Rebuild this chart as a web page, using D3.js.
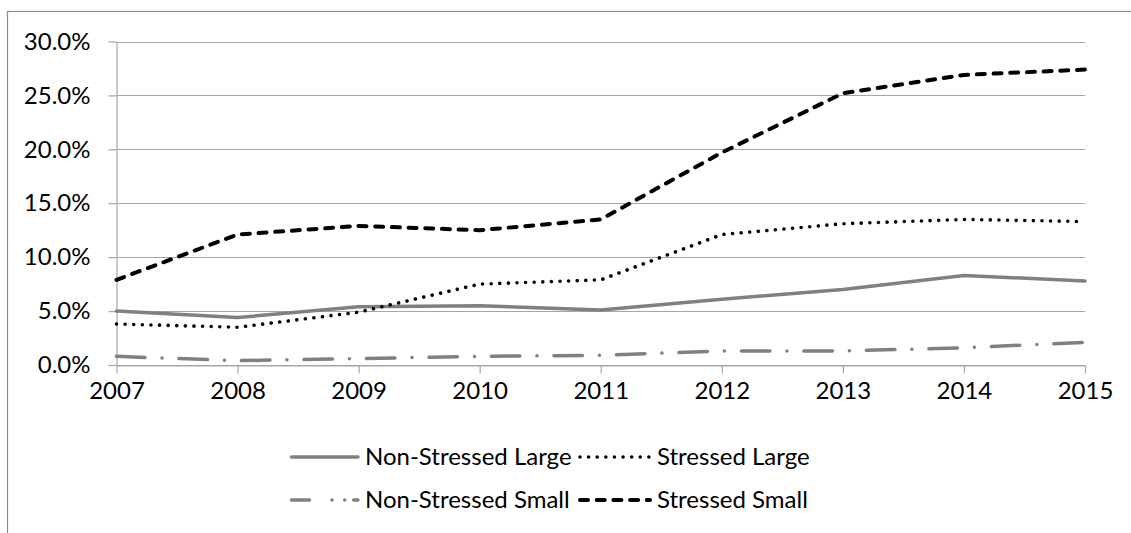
<!DOCTYPE html>
<html>
<head>
<meta charset="utf-8">
<script src="https://cdn.jsdelivr.net/npm/d3@7"></script>
<style>
  html, body { margin: 0; padding: 0; background: #fff; }
  svg { display: block; }
  text { font-family: "Lato", "Open Sans", sans-serif; fill: #000; }
</style>
</head>
<body>
<svg id="chart" width="1131" height="533"></svg>
<script>
// Share of firms by group, 2007–2015 (percent)
const years = [2007, 2008, 2009, 2010, 2011, 2012, 2013, 2014, 2015];
const nonStressedLarge = [5.0, 4.4, 5.4, 5.5, 5.1, 6.1, 7.0, 8.3, 7.8];
const stressedLarge    = [3.8, 3.5, 4.9, 7.5, 7.9, 12.1, 13.1, 13.5, 13.3];
const nonStressedSmall = [0.8, 0.4, 0.6, 0.8, 0.9, 1.3, 1.3, 1.6, 2.1];
const stressedSmall    = [7.9, 12.1, 12.9, 12.5, 13.5, 19.7, 25.2, 26.9, 27.4];
const yTicks = [0, 5, 10, 15, 20, 25, 30];
const seriesNames = ["Non-Stressed Large", "Stressed Large", "Non-Stressed Small", "Stressed Small"];

const gridColor = "#a6a6a6";
const frameColor = "#8c8c8c";
const fontSize = 24;

const series = [
  { name: seriesNames[0], values: nonStressedLarge, color: "#808080", width: 3.5, dash: null, legendDash: null },
  { name: seriesNames[1], values: stressedLarge, color: "#000000", width: 3.6, dash: "0.01 8.6", legendDash: "0.01 8.6" },
  { name: seriesNames[2], values: nonStressedSmall, color: "#808080", width: 3.5, dash: "28.5 17 0.01 17", legendDash: "18 22.5 0.01 12.7 0.01 9 4.2 100" },
  { name: seriesNames[3], values: stressedSmall, color: "#000000", width: 4, dash: "8 8.7", legendDash: "8 8.7" }
];

const svg = d3.select("#chart");

// chart frame
svg.append("rect")
  .attr("x", 7.5).attr("y", 11.5)
  .attr("width", 1300).attr("height", 700)
  .attr("fill", "none").attr("stroke", frameColor).attr("stroke-width", 1.2);

const x = d3.scaleLinear().domain([2007, 2015]).range([116.5, 1085]);
const y = d3.scaleLinear().domain([0, 30]).range([365, 41.5]);

// horizontal gridlines
svg.append("g")
  .selectAll("line")
  .data(yTicks)
  .join("line")
  .attr("x1", x(2007)).attr("x2", x(2015))
  .attr("y1", d => Math.round(y(d)) + 0.5).attr("y2", d => Math.round(y(d)) + 0.5)
  .attr("stroke", gridColor).attr("stroke-width", 1.2);

// y axis
const yAxis = svg.append("g")
  .attr("transform", `translate(${x(2007)},0)`)
  .call(d3.axisLeft(y).tickValues(yTicks)
    .tickFormat(d => d.toFixed(1) + "%")
    .tickSize(8).tickSizeOuter(0).tickPadding(18));
yAxis.selectAll("path.domain").attr("stroke", gridColor).attr("stroke-width", 1.2);
yAxis.selectAll(".tick line").attr("stroke", gridColor).attr("stroke-width", 1.2);
yAxis.selectAll("text").attr("font-size", fontSize).attr("font-family", "Lato, 'Open Sans', sans-serif").attr("fill", "#000");

// x axis
const xAxis = svg.append("g")
  .attr("transform", `translate(0,${Math.round(y(0)) + 0.5})`)
  .call(d3.axisBottom(x).tickValues(years)
    .tickFormat(d3.format("d"))
    .tickSize(8).tickSizeOuter(0).tickPadding(8));
xAxis.selectAll("path.domain").attr("stroke", gridColor).attr("stroke-width", 1.2);
xAxis.selectAll(".tick line").attr("stroke", gridColor).attr("stroke-width", 1.2);
xAxis.selectAll("text").attr("font-size", fontSize).attr("font-family", "Lato, 'Open Sans', sans-serif").attr("fill", "#000");

// series lines
const line = d3.line()
  .x((d, i) => x(years[i]))
  .y(d => y(d));

svg.append("g")
  .selectAll("path")
  .data(series)
  .join("path")
  .attr("d", d => line(d.values))
  .attr("fill", "none")
  .attr("stroke", d => d.color)
  .attr("stroke-width", d => d.width)
  .attr("stroke-linecap", "round")
  .attr("stroke-linejoin", "round")
  .attr("stroke-dasharray", d => d.dash);

// legend, two rows by two columns
const legendRows = [457, 500];
const legendCols = [
  { x1: 291.5, x2: 358, tx: 365 },
  { x1: 580, x2: 650, tx: 657 }
];
const legend = svg.append("g");
series.forEach((s, i) => {
  const col = legendCols[i % 2];
  const ly = legendRows[Math.floor(i / 2)];
  legend.append("line")
    .attr("x1", col.x1).attr("x2", col.x2)
    .attr("y1", ly).attr("y2", ly)
    .attr("stroke", s.color)
    .attr("stroke-width", s.width)
    .attr("stroke-linecap", "round")
    .attr("stroke-dasharray", s.legendDash);
  legend.append("text")
    .attr("x", col.tx).attr("y", ly)
    .attr("dy", "0.35em")
    .attr("font-size", fontSize)
    .text(s.name);
});
</script>
</body>
</html>
